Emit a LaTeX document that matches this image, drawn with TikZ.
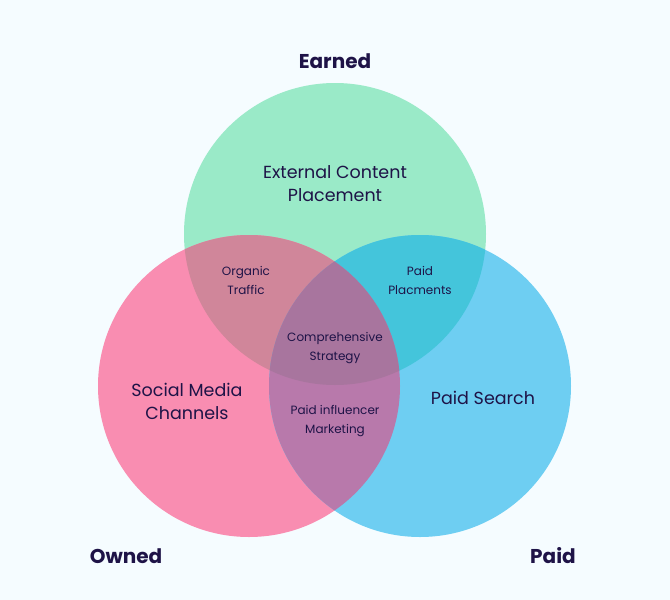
\documentclass[tikz,border=0pt]{standalone}
\usepackage{fontspec}
\setmainfont{Poppins}
\definecolor{paper}{HTML}{F5FCFF}
\definecolor{ink}{HTML}{1E1347}
\definecolor{earnedgreen}{HTML}{9AEAC8}
\definecolor{ownedpink}{HTML}{F98DB1}
\definecolor{paidblue}{HTML}{6ECEF2}
\definecolor{eomix}{HTML}{D0869A}
\definecolor{epmix}{HTML}{44C5DB}
\definecolor{opmix}{HTML}{B879AB}
\definecolor{allmix}{HTML}{A8759E}

\begin{document}
\begin{tikzpicture}[
  x=1pt, y=-1pt,
  set/.style={circle, minimum size=302pt, inner sep=0pt},
  title/.style={text=ink, font=\fontsize{20}{23}\selectfont\bfseries},
  zone/.style={text=ink, align=center, font=\fontsize{17.5}{23}\selectfont},
  overlap/.style={text=ink, align=center, font=\fontsize{12}{19}\selectfont},
]
% --- background ---
\fill[paper] (0,0) rectangle (670,600);

% --- the three sets ---
\node[set, fill=earnedgreen] (Earned) at (335,234) {};
\node[set, fill=ownedpink] (Owned) at (249,386) {};
\node[set, fill=paidblue] (Paid) at (420,386) {};

% --- pairwise overlaps ---
\begin{scope}
  \clip (Earned.center) circle[radius=151pt];
  \fill[eomix] (Owned.center) circle[radius=151pt];
  \fill[epmix] (Paid.center) circle[radius=151pt];
\end{scope}
\begin{scope}
  \clip (Owned.center) circle[radius=151pt];
  \fill[opmix] (Paid.center) circle[radius=151pt];
  % centre: all three
  \clip (Paid.center) circle[radius=151pt];
  \fill[allmix] (Earned.center) circle[radius=151pt];
\end{scope}

% --- set titles ---
\node[title] (EarnedTitle) at (335,61) {Earned};
\node[title] (OwnedTitle) at (126,556) {Owned};
\node[title] (PaidTitle) at (553,556) {Paid};

% --- zone labels ---
\node[zone] (External) at (335,184) {External Content\\Placement};
\node[zone] (Social) at (187,401) {Social Media\\Channels};
\node[zone] (Search) at (483,398) {Paid Search};
\node[overlap] (Organic) at (246,280) {Organic\\Traffic};
\node[overlap] (Placments) at (420,280) {Paid\\Placments};
\node[overlap] (Strategy) at (335,348) {Comprehensive\\Strategy};
\node[overlap] (Influencer) at (335,421) {Paid influencer\\Marketing};
\end{tikzpicture}
\end{document}
